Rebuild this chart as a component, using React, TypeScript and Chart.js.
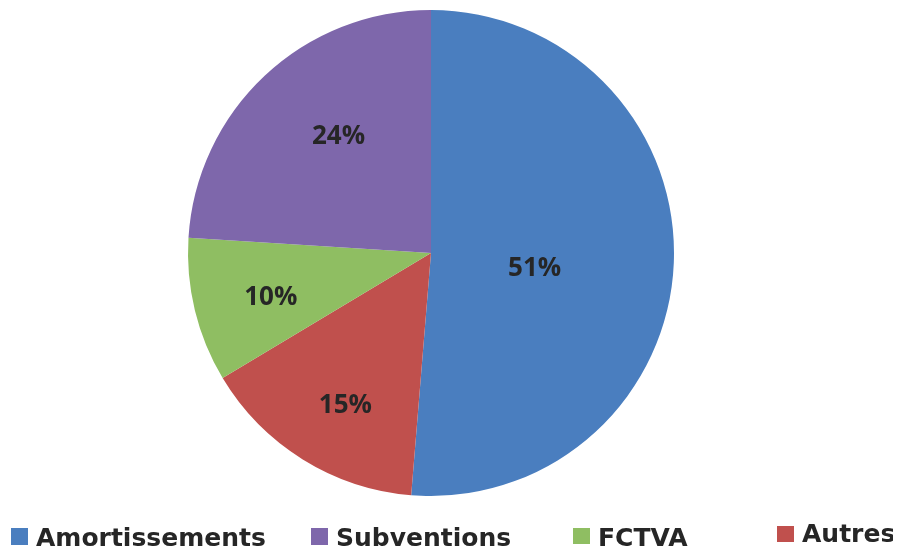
import React, { useEffect, useRef } from "react";
import { Chart, registerables } from "chart.js";

Chart.register(...registerables);

const categories = ["Amortissements", "Autres", "FCTVA", "Subventions"];
const values = [51.3, 15.1, 9.6, 24.0];
const colors = ["#4A7EBF", "#C0504D", "#8FBE62", "#7E67AB"];
const legendOrder = ["Amortissements", "Subventions", "FCTVA", "Autres"];

// label placement tweaks per slice (radius fraction, angle shift in degrees)
const labelRadius = [0.43, 0.712, 0.682, 0.617];
const labelAngleShift = [5.0, -2.2, -1.2, 5.1];

const legendPos: Record<string, { box: [number, number, number, number]; textLeft: number; textTop: number }> = {
  Amortissements: { box: [3, 520, 17, 17], textLeft: 28, textTop: 517 },
  Subventions: { box: [303, 520, 17, 17], textLeft: 328, textTop: 517 },
  FCTVA: { box: [565, 520, 17, 16], textLeft: 590, textTop: 517 },
  Autres: { box: [769, 518, 17, 16], textLeft: 794, textTop: 513 },
};

const labelPlugin = {
  id: "pctLabels",
  afterDatasetsDraw(chart: any) {
    const ctx = chart.ctx;
    const meta = chart.getDatasetMeta(0);
    const data = chart.data.datasets[0].data as number[];
    const total = data.reduce((a, b) => a + b, 0);
    ctx.save();
    ctx.font = "bold 26px 'Open Sans'";
    ctx.fillStyle = "#262626";
    ctx.textAlign = "center";
    ctx.textBaseline = "middle";
    meta.data.forEach((arc: any, i: number) => {
      const { x, y, startAngle, endAngle, outerRadius } = arc.getProps(
        ["x", "y", "startAngle", "endAngle", "outerRadius"],
        true
      );
      const mid = (startAngle + endAngle) / 2 + (labelAngleShift[i] * Math.PI) / 180;
      const r = outerRadius * labelRadius[i];
      const pct = Math.round((data[i] / total) * 100) + "%";
      ctx.fillText(pct, x + Math.cos(mid) * r, y + Math.sin(mid) * r + 2);
    });
    ctx.restore();
  },
};

export default function App() {
  const ref = useRef<HTMLCanvasElement>(null);
  useEffect(() => {
    document.documentElement.style.overflow = "hidden";
    document.body.style.overflow = "hidden";
    if (!ref.current) return;
    const chart = new Chart(ref.current, {
      type: "pie",
      data: {
        labels: categories,
        datasets: [
          {
            data: values,
            backgroundColor: colors,
            borderWidth: 0,
          },
        ],
      },
      options: {
        animation: false,
        responsive: false,
        maintainAspectRatio: false,
        layout: { padding: { left: 180, right: 219, top: 2, bottom: 56 } },
        plugins: {
          legend: { display: false },
          tooltip: { enabled: false },
        },
      },
      plugins: [labelPlugin],
    });
    return () => chart.destroy();
  }, []);

  return (
    <div style={{ position: "relative", width: 885, height: 544 }}>
      <canvas ref={ref} width={885} height={544} style={{ position: "absolute", left: 0, top: 0 }} />
      {legendOrder.map((name) => {
        const p = legendPos[name];
        const idx = categories.indexOf(name);
        return (
          <React.Fragment key={name}>
            <div
              style={{
                position: "absolute",
                left: p.box[0],
                top: p.box[1],
                width: p.box[2],
                height: p.box[3],
                background: colors[idx],
              }}
            />
            <div
              style={{
                position: "absolute",
                left: p.textLeft,
                top: p.textTop,
                font: "bold 25px 'DejaVu Sans'",
                lineHeight: "25px",
                color: "#262626",
                whiteSpace: "nowrap",
              }}
            >
              {name}
            </div>
          </React.Fragment>
        );
      })}
    </div>
  );
}
